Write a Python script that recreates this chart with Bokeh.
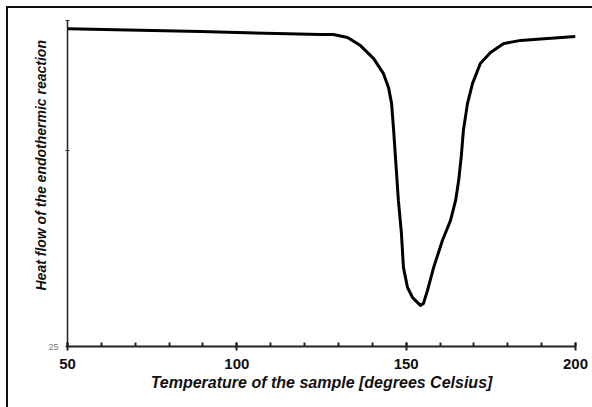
from bokeh.plotting import figure
from bokeh.models import Range1d, SingleIntervalTicker, FixedTicker, Title
from bokeh.embed import file_html
from bokeh.resources import INLINE

# Temperature of the sample [degrees Celsius]
temperature = [50.0, 89.3, 124.7, 128.5, 132.7, 136.5, 140.4, 143.3, 144.8, 145.7,
               146.3, 146.9, 147.7, 148.6, 149.2, 150.4, 151.9, 154.2, 155.1,
               156.3, 158.1, 160.7, 163.1, 164.6, 165.5, 166.3, 166.9, 168.1,
               169.6, 171.9, 174.9, 178.7, 183.8, 189.7, 200.0]
# Heat flow of the endothermic reaction (arbitrary units)
heat_flow = [122.5, 121.6, 120.7, 120.7, 119.8, 117.3, 113.3, 108.7, 104.4, 99.5,
             91.3, 82.1, 69.8, 59.7, 49.2, 43.1, 40.0, 37.6, 38.2,
             42.2, 49.2, 57.5, 63.7, 69.8, 75.9, 83.6, 91.3, 99.5,
             105.7, 111.8, 115.2, 117.9, 118.9, 119.3, 120.1]

y_ticks = [25, 85.1, 125]
y_tick_labels = {25: "25", 85.1: "", 125: ""}

p = figure(width=592, height=407, output_backend="svg", toolbar_location=None,
           x_range=Range1d(50, 200), y_range=Range1d(25, 125),
           min_border_left=67, min_border_right=17, min_border_top=20,
           min_border_bottom=61)
p.styles = {"box-shadow": "inset 6px 6px 0 0 #ffffff, inset 8px 8px 0 0 #111111"}
p.outline_line_color = None
p.grid.visible = False
p.background_fill_color = "white"
p.border_fill_color = None

p.line(temperature, heat_flow, line_width=3, line_color="black", line_join="round")

xa = p.xaxis[0]
xa.ticker = SingleIntervalTicker(interval=50, num_minor_ticks=5)
xa.axis_label = "Temperature of the sample [degrees Celsius]"
xa.axis_label_text_font = "Liberation Sans"
xa.axis_label_text_font_style = "bold italic"
xa.axis_label_text_font_size = "16px"
xa.axis_label_text_color = "#111"
xa.axis_label_standoff = 2
xa.major_label_text_font = "Liberation Sans"
xa.major_label_text_font_style = "bold"
xa.major_label_text_font_size = "15px"
xa.major_label_text_color = "#111"
xa.major_label_standoff = 8
xa.axis_line_width = 2
xa.axis_line_color = "#222"
xa.major_tick_in = 4
xa.major_tick_out = 4
xa.major_tick_line_width = 2
xa.major_tick_line_color = "#222"
xa.minor_tick_in = 4
xa.minor_tick_out = 0
xa.minor_tick_line_width = 2
xa.minor_tick_line_color = "#222"

ya = p.yaxis[0]
ya.ticker = FixedTicker(ticks=y_ticks)
ya.major_label_overrides = y_tick_labels
ya.major_label_text_font = "Liberation Sans"
ya.major_label_text_font_size = "9px"
ya.major_label_text_color = "#777"
ya.major_label_standoff = 7
ya.axis_line_width = 1.5
ya.axis_line_color = "#222"
ya.major_tick_in = 2
ya.major_tick_out = 2
ya.major_tick_line_color = "#222"
ya.minor_tick_line_color = None

ytitle = Title(text="Heat flow of the endothermic reaction", align="left",
               offset=56, standoff=-6, text_font="Liberation Sans",
               text_font_style="bold italic", text_font_size="14px",
               text_color="#111")
p.add_layout(ytitle, "left")

open("out.html", "w").write(file_html(p, INLINE))
